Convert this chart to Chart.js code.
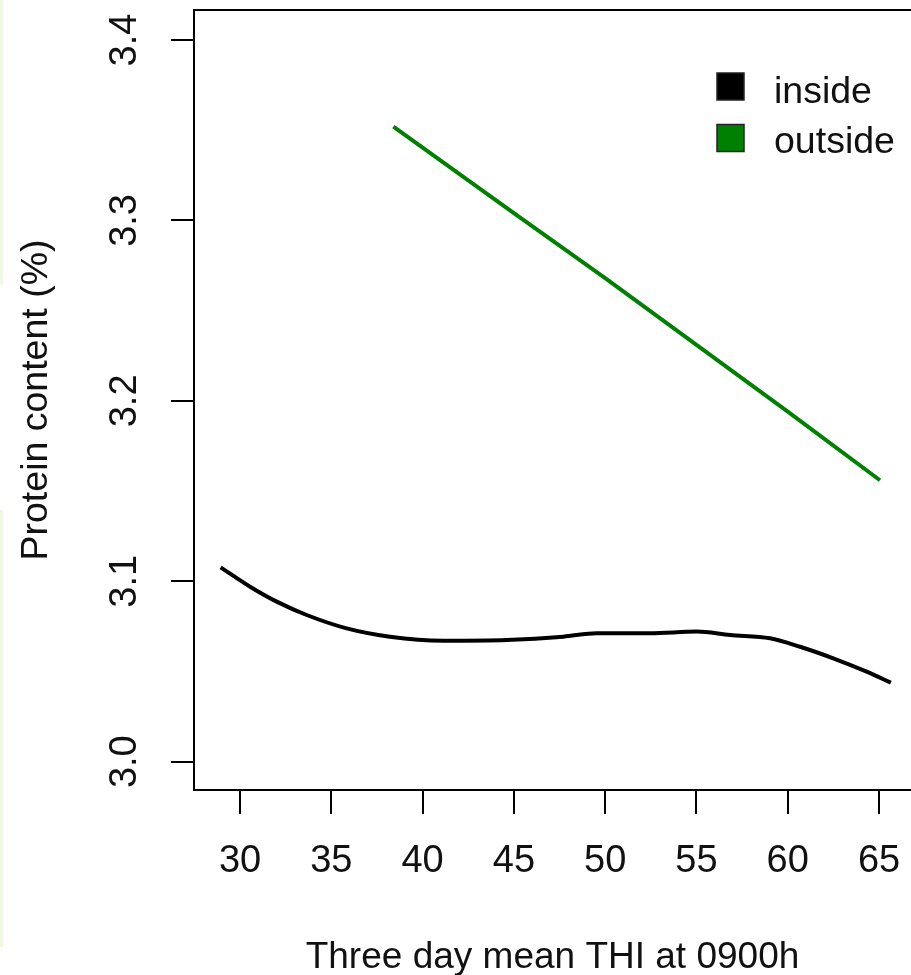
<!DOCTYPE html>
<html>
<head>
<meta charset="utf-8">
<script src="https://cdn.jsdelivr.net/npm/chart.js@4.4.1/dist/chart.umd.min.js"></script>
<style>
  html, body { margin: 0; padding: 0; background: #fff; }
  #wrap { position: relative; width: 911px; height: 975px; overflow: hidden; }
  canvas { display: block; }
  .strip { position: absolute; left: 0; width: 3px; background: #eef8e2; }
</style>
</head>
<body>
<div id="wrap">
  <div class="strip" style="top:0;height:285px"></div>
  <div class="strip" style="top:510px;height:437px"></div>
  <canvas id="c" width="911" height="975"></canvas>
</div>
<script>
// ---- data ----
const seriesNames = ["inside", "outside"];
const insideX = [28.94, 30.55, 32.01, 33.65, 35.84, 38.21, 41.13, 44.61, 47.71, 49.53, 52.45, 55.01, 56.84, 59.03, 60.67, 62.49, 64.32, 65.65];
const insideY = [3.1077, 3.0970, 3.0887, 3.0813, 3.0739, 3.0693, 3.0671, 3.0675, 3.0693, 3.0712, 3.0712, 3.0721, 3.0702, 3.0684, 3.0637, 3.0573, 3.0499, 3.0438];
const outsideX = [38.4, 45.0, 50.0, 55.0, 60.0, 65.05];
const outsideY = [3.352, 3.304, 3.268, 3.231, 3.194, 3.156];
const xTicks = [30, 35, 40, 45, 50, 55, 60, 65];
const yTicks = [3.0, 3.1, 3.2, 3.3, 3.4];
const xLimits = [27.48, 66.75];
const yLimits = [2.98431, 3.41663];
const xTitle = "Three day mean THI at 0900h";
const yTitle = "Protein content (%)";
const colors = ["#000000", "#008000"];

const FONT = "'Liberation Sans', Arial, sans-serif";
const TXT = "#111111";

const toPts = (xs, ys) => xs.map((x, i) => ({ x: x, y: ys[i] }));

const framePlugin = {
  id: 'frame',
  afterDraw(chart) {
    const { ctx, chartArea } = chart;
    ctx.save();
    ctx.strokeStyle = '#000';
    ctx.lineWidth = 2;
    ctx.beginPath();
    ctx.moveTo(chartArea.left - 1, chartArea.top);
    ctx.lineTo(chartArea.right, chartArea.top);
    ctx.stroke();
    ctx.restore();
  }
};

const legendPlugin = {
  id: 'rlegend',
  afterDraw(chart) {
    const { ctx } = chart;
    ctx.save();
    ctx.font = "37.5px " + FONT;
    ctx.textBaseline = 'alphabetic';
    ctx.textAlign = 'left';
    chart.data.datasets.forEach((ds, i) => {
      const top = 73 + i * 51.5;
      ctx.fillStyle = ds.borderColor;
      ctx.fillRect(717, top, 27, 27);
      ctx.strokeStyle = '#222';
      ctx.lineWidth = 1.5;
      ctx.strokeRect(717, top, 27, 27);
      ctx.fillStyle = TXT;
      ctx.fillText(ds.label, 774, 103 + i * 50);
    });
    ctx.restore();
  }
};

new Chart(document.getElementById('c'), {
  type: 'line',
  data: {
    datasets: [
      { label: seriesNames[0], data: toPts(insideX, insideY), borderColor: colors[0], backgroundColor: colors[0],
        borderWidth: 4, pointRadius: 0, cubicInterpolationMode: 'monotone', fill: false },
      { label: seriesNames[1], data: toPts(outsideX, outsideY), borderColor: colors[1], backgroundColor: colors[1],
        borderWidth: 4, pointRadius: 0, tension: 0, fill: false }
    ]
  },
  options: {
    responsive: false,
    animation: false,
    devicePixelRatio: 1,
    layout: { padding: { top: 10, left: 0, right: 0, bottom: 0 } },
    plugins: { legend: { display: false }, tooltip: { enabled: false } },
    scales: {
      x: {
        type: 'linear',
        min: xLimits[0], max: xLimits[1],
        afterBuildTicks: (s) => { s.ticks = xTicks.map(v => ({ value: v })); },
        afterFit: (s) => { s.height = 185; s.paddingLeft = 0; s.paddingRight = 0; },
        grid: { drawOnChartArea: false, drawTicks: true, tickLength: 24, color: '#000', lineWidth: 2 },
        border: { display: true, color: '#000', width: 2 },
        ticks: { color: TXT, font: { family: FONT, size: 38 }, padding: 25, maxRotation: 0, minRotation: 0,
                 callback: (v) => String(v) },
        title: { display: true, text: xTitle, color: TXT, font: { family: FONT, size: 37, lineHeight: 1.0 },
                 padding: { top: 0, bottom: -1 } }
      },
      y: {
        type: 'linear',
        min: yLimits[0], max: yLimits[1],
        afterBuildTicks: (s) => { s.ticks = yTicks.map(v => ({ value: v })); },
        afterFit: (s) => { s.width = 194; s.paddingTop = 0; s.paddingBottom = 0; },
        grid: { drawOnChartArea: false, drawTicks: true, tickLength: 23, color: '#000', lineWidth: 2 },
        border: { display: true, color: '#000', width: 2 },
        ticks: { color: TXT, font: { family: FONT, size: 38 }, padding: 19, minRotation: 90, maxRotation: 90,
                 crossAlign: 'center', callback: (v) => Number(v).toFixed(1) },
        title: { display: true, text: yTitle, color: TXT, font: { family: FONT, size: 37.5, lineHeight: 1.2 },
                 padding: { top: 14, bottom: 0 } }
      }
    }
  },
  plugins: [framePlugin, legendPlugin]
});
</script>
</body>
</html>
